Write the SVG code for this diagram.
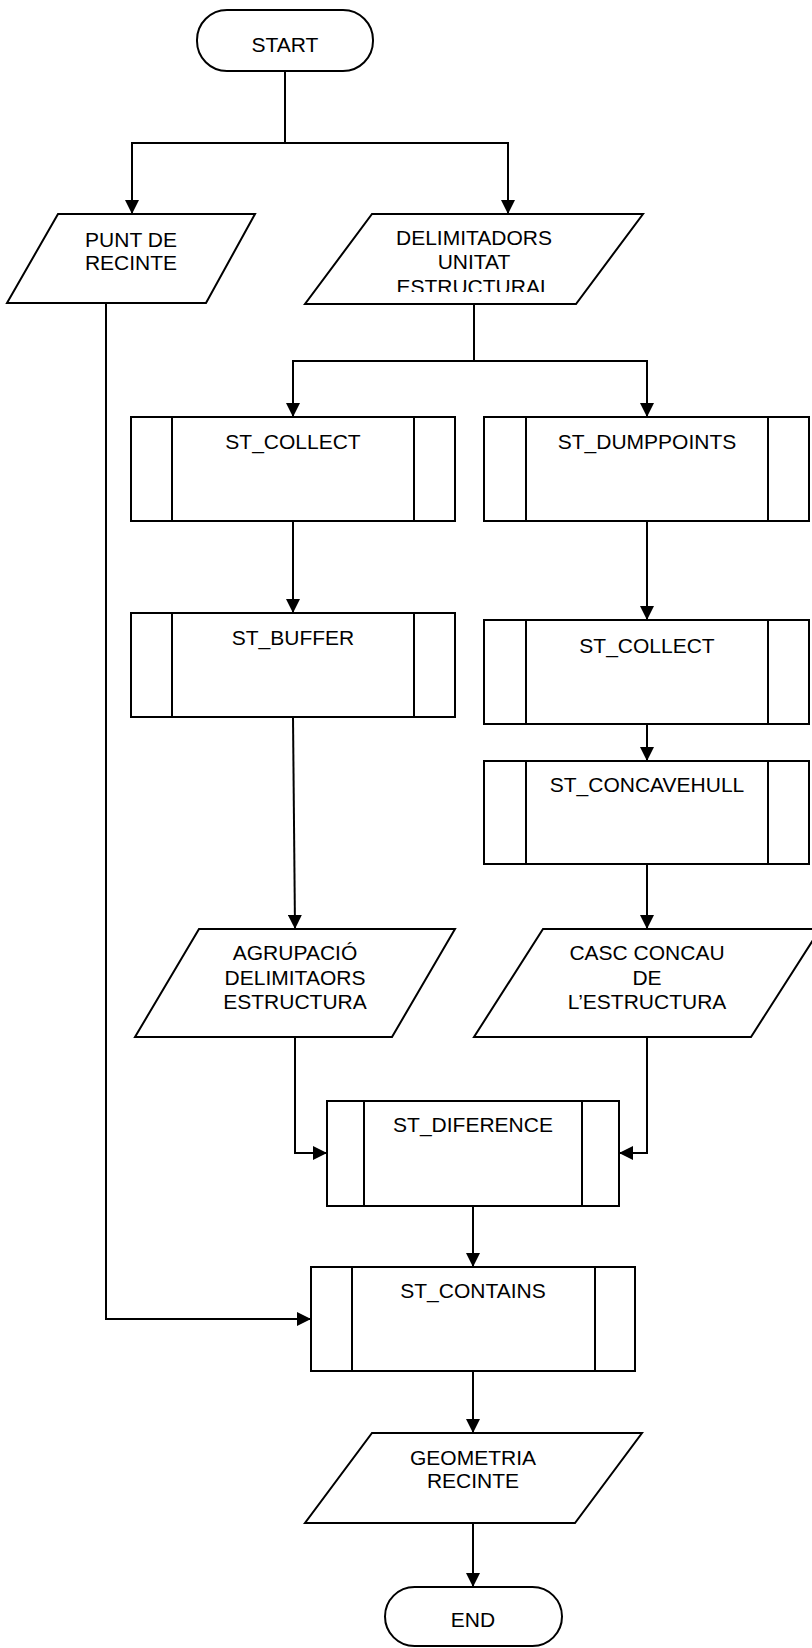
<svg xmlns="http://www.w3.org/2000/svg" width="812" height="1648" viewBox="0 0 812 1648">
<style>
.s{fill:#fff;stroke:#000;stroke-width:2}
.l{fill:none;stroke:#000;stroke-width:2}
.c{fill:none;stroke:#000;stroke-width:2;marker-end:url(#ah)}
text{font-family:"Liberation Sans",Arial,sans-serif;font-size:21px;fill:#000;text-anchor:middle}
</style>
<defs>
<marker id="ah" markerUnits="userSpaceOnUse" markerWidth="14" markerHeight="14" refX="14" refY="7" orient="auto">
<path d="M0,0 L14,7 L0,14 z" fill="#000"/>
</marker>
<clipPath id="clipDel"><rect x="300" y="214" width="350" height="78"/></clipPath>
</defs>
<rect width="812" height="1648" fill="#fff"/>
<g id="connectors">
<path class="l" d="M285,71 V143"/>
<path class="c" d="M285,143 H132 V214"/>
<path class="c" d="M285,143 H508 V214"/>
<path class="l" d="M474,304 V361"/>
<path class="c" d="M474,361 H293 V417"/>
<path class="c" d="M474,361 H647 V417"/>
<path class="c" d="M293,521 V613"/>
<path class="c" d="M293,717 L295,929"/>
<path class="c" d="M647,521 V620"/>
<path class="c" d="M647,724 V761"/>
<path class="c" d="M647,864 V929"/>
<path class="c" d="M295,1037 V1153 H327"/>
<path class="c" d="M647,1037 V1153 H619"/>
<path class="c" d="M473,1206 V1267"/>
<path class="c" d="M106,303 V1319 H311"/>
<path class="c" d="M473,1371 V1433"/>
<path class="c" d="M473,1523 V1587"/>
</g>
<g id="start">
<rect class="s" x="197" y="10" width="176" height="61" rx="30" ry="30"/>
<text x="285" y="52">START</text>
</g>
<g id="punt">
<polygon class="s" points="58,214 255,214 206,303 7,303"/>
<text x="131" y="247">PUNT DE</text>
<text x="131" y="270">RECINTE</text>
</g>
<g id="delimitadors">
<polygon class="s" points="372,214 643,214 576,304 305,304"/>
<text x="474" y="245">DELIMITADORS</text>
<text x="474" y="269">UNITAT</text>
<text x="474" y="294" clip-path="url(#clipDel)">ESTRUCTURAL</text>
</g>
<g id="collect1">
<rect class="s" x="131" y="417" width="324" height="104"/>
<path class="l" d="M172,417 V521 M414,417 V521"/>
<text x="293" y="449">ST_COLLECT</text>
</g>
<g id="dumppoints">
<rect class="s" x="484" y="417" width="325" height="104"/>
<path class="l" d="M526,417 V521 M768,417 V521"/>
<text x="647" y="449">ST_DUMPPOINTS</text>
</g>
<g id="buffer">
<rect class="s" x="131" y="613" width="324" height="104"/>
<path class="l" d="M172,613 V717 M414,613 V717"/>
<text x="293" y="645">ST_BUFFER</text>
</g>
<g id="collect2">
<rect class="s" x="484" y="620" width="325" height="104"/>
<path class="l" d="M526,620 V724 M768,620 V724"/>
<text x="647" y="653">ST_COLLECT</text>
</g>
<g id="concavehull">
<rect class="s" x="484" y="761" width="325" height="103"/>
<path class="l" d="M526,761 V864 M768,761 V864"/>
<text x="647" y="792">ST_CONCAVEHULL</text>
</g>
<g id="agrupacio">
<polygon class="s" points="199,929 455,929 392,1037 135,1037"/>
<text x="295" y="960">AGRUPACIÓ</text>
<text x="295" y="985">DELIMITAORS</text>
<text x="295" y="1009">ESTRUCTURA</text>
</g>
<g id="casc">
<polygon class="s" points="543,929 820,929 751,1037 474,1037"/>
<text x="647" y="960">CASC CONCAU</text>
<text x="647" y="985">DE</text>
<text x="647" y="1009">L’ESTRUCTURA</text>
</g>
<g id="diference">
<rect class="s" x="327" y="1101" width="292" height="105"/>
<path class="l" d="M364,1101 V1206 M582,1101 V1206"/>
<text x="473" y="1132">ST_DIFERENCE</text>
</g>
<g id="contains">
<rect class="s" x="311" y="1267" width="324" height="104"/>
<path class="l" d="M352,1267 V1371 M595,1267 V1371"/>
<text x="473" y="1298">ST_CONTAINS</text>
</g>
<g id="geometria">
<polygon class="s" points="372,1433 642,1433 575,1523 305,1523"/>
<text x="473" y="1465">GEOMETRIA</text>
<text x="473" y="1488">RECINTE</text>
</g>
<g id="end">
<rect class="s" x="385" y="1587" width="177" height="59" rx="29.5" ry="29.5"/>
<text x="473" y="1627">END</text>
</g>
</svg>
